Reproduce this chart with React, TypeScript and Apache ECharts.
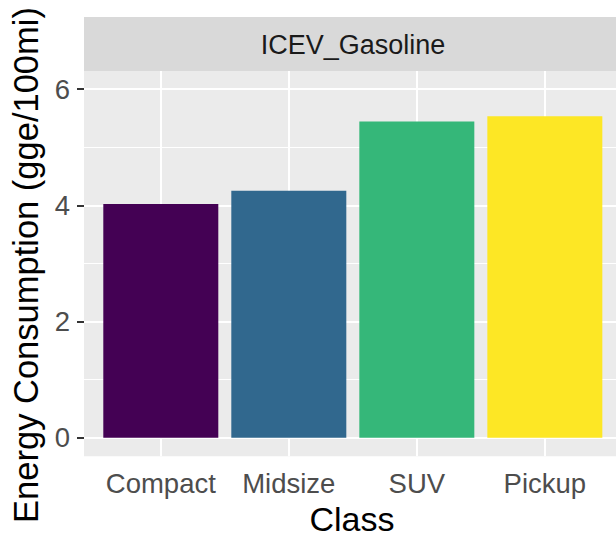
import React, { useEffect, useRef } from "react";
import * as echarts from "echarts";

const categories = ["Compact", "Midsize", "SUV", "Pickup"];
const values = [4.02, 4.25, 5.44, 5.53];
const barColors = ["#440154", "#31688E", "#35B779", "#FDE725"];
const yTicks = [0, 2, 4, 6];
const yMinorTicks = [1, 3, 5];
const facetLabel = "ICEV_Gasoline";
const xTitle = "Class";
const yTitle = "Energy Consumption (gge/100mi)";

const FONT = "'Liberation Sans', Arial, sans-serif";

export default function App() {
  const ref = useRef<HTMLDivElement>(null);
  useEffect(() => {
    if (!ref.current) return;
    const chart = echarts.init(ref.current, null, { renderer: "svg" });
    const xPositions = categories.map((_, i) => i + 1);
    const gridLines: any[] = [
      ...xPositions.map((x) => ({ xAxis: x, lineStyle: { color: "#FFFFFF", width: 2, type: "solid" } })),
      ...yTicks.map((y) => ({ yAxis: y, lineStyle: { color: "#FFFFFF", width: 2, type: "solid" } })),
      ...yMinorTicks.map((y) => ({ yAxis: y, lineStyle: { color: "#FFFFFF", width: 1, type: "solid" } })),
    ];
    chart.setOption({
      animation: false,
      grid: {
        left: 84,
        top: 71,
        right: 0,
        bottom: 82,
        show: true,
        backgroundColor: "#EBEBEB",
        borderWidth: 0,
      },
      xAxis: {
        type: "value",
        min: 0.4,
        max: 4.556,
        splitLine: { show: false },
        axisLine: { show: false },
        axisTick: { show: true, length: 7, lineStyle: { color: "#333333", width: 2 }, customValues: xPositions },
        axisLabel: {
          customValues: xPositions,
          formatter: (v: number) => categories[Math.round(v) - 1] ?? "",
          color: "#4D4D4D",
          fontFamily: FONT,
          fontSize: 27.5,
          lineHeight: 27.5,
          margin: 13,
        },
        name: xTitle,
        nameLocation: "middle",
        nameGap: 45,
        nameTextStyle: { color: "#000000", fontFamily: FONT, fontSize: 34, lineHeight: 34, padding: [0, 0, 0, 4] },
      },
      yAxis: {
        type: "value",
        min: -0.32,
        max: 6.31,
        splitLine: { show: false },
        axisLine: { show: false },
        axisTick: { show: true, length: 7, lineStyle: { color: "#333333", width: 2 }, customValues: yTicks },
        axisLabel: {
          customValues: yTicks,
          color: "#4D4D4D",
          fontFamily: FONT,
          fontSize: 27.5,
          lineHeight: 27.5,
          margin: 14,
        },
      },
      graphic: [
        {
          type: "rect",
          shape: { x: 84, y: 17, width: 532, height: 54 },
          style: { fill: "#D9D9D9" },
          z: 0,
        },
        {
          type: "text",
          x: 353,
          y: 45.4,
          style: {
            text: facetLabel,
            fill: "#1A1A1A",
            font: `27px ${FONT}`,
            align: "center",
            verticalAlign: "middle",
          },
          z: 1,
        },
        {
          type: "text",
          x: 26,
          y: 265,
          rotation: Math.PI / 2,
          style: {
            text: yTitle,
            fill: "#000000",
            font: `34.5px ${FONT}`,
            align: "center",
            verticalAlign: "middle",
          },
        },
      ],
      series: [
        {
          type: "line",
          data: [],
          z: 1,
          silent: true,
          markLine: {
            z: 1,
            silent: true,
            symbol: ["none", "none"],
            label: { show: false },
            animation: false,
            data: gridLines,
          },
        },
        {
          type: "bar",
          z: 10,
          barWidth: 115,
          data: values.map((v, i) => ({
            value: [i + 1, v],
            itemStyle: { color: barColors[i] },
          })),
        },
      ],
    });
    return () => chart.dispose();
  }, []);
  return (
    <div
      ref={ref}
      style={{ position: "fixed", left: 0, top: 0, width: 616, height: 541, background: "#FFFFFF" }}
    />
  );
}
